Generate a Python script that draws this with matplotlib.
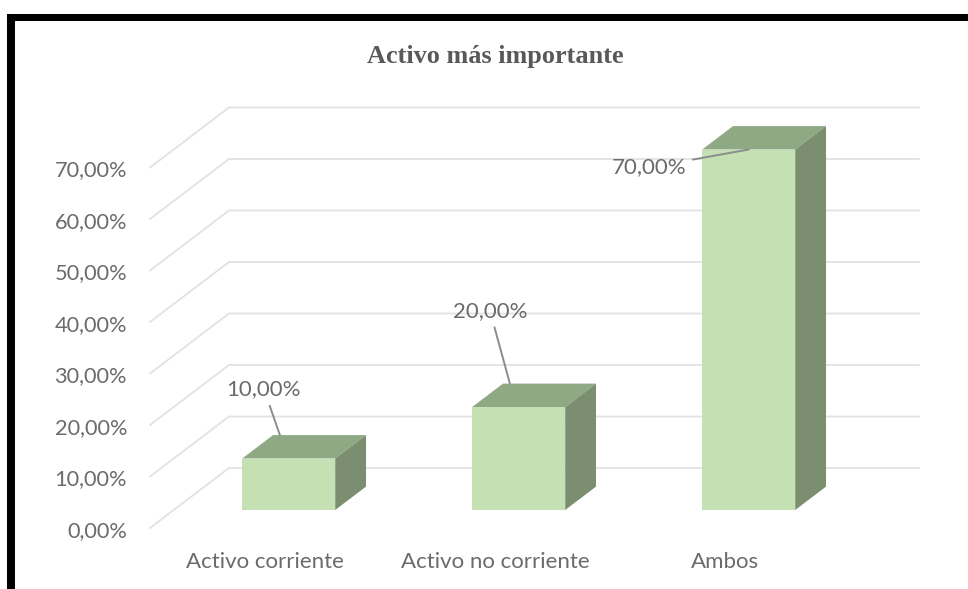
import numpy as np
import matplotlib
matplotlib.use("Agg")
from matplotlib import pyplot as plt
from matplotlib.patches import Polygon, Rectangle

categories = ["Activo corriente", "Activo no corriente", "Ambos"]
values = [10, 20, 70]
value_labels = ["10,00%", "20,00%", "70,00%"]
ticks = [0, 10, 20, 30, 40, 50, 60, 70]
tick_labels = ["0,00%", "10,00%", "20,00%", "30,00%", "40,00%", "50,00%", "60,00%", "70,00%"]

W, H = 968, 589
PX_X = 230.0   # pixels per category
PX_Y = 5.15    # pixels per percent
X0, Y0 = 265.0, 528.0  # where category 0 / value 0 sit on the front of the floor

# depth of the fake 3d box, in data units
DX = 79.0 / PX_X
DY = 60.0 / PX_Y
BAR_D0, BAR_D1 = 0.30, 0.69
BAR_W = 93.0 / PX_X

LABEL_OFFSETS = [(-16, 46), (-20, 73), (-100, -18)]

GRID = "#e2e2e2"
TEXT = "#6b6b6b"
FRONT = "#c5e0b3"
TOP = "#8fa985"
SIDE = "#7b8e70"


def proj(x, v, d):
    # shear a point back into the chart by depth d
    return x + d * DX, v + d * DY


fig = plt.figure(figsize=(W / 100, H / 100), dpi=100)
ax = fig.add_axes([0, 0, 1, 1])
ax.set_xlim(-X0 / PX_X, (W - X0) / PX_X)
ax.set_ylim((Y0 - H) / PX_Y, Y0 / PX_Y)
ax.axis("off")

# gridlines: the slanted side wall then the back wall
for t, lab in zip(ticks, tick_labels):
    pts = [proj(-0.5, t, 0), proj(-0.5, t, 1), proj(2.5, t, 1)]
    ax.plot([p[0] for p in pts], [p[1] for p in pts], color=GRID, lw=1.3, zorder=1,
            solid_joinstyle="miter")
    ax.annotate(lab, xy=(-0.5, t), xytext=(-23, -3), textcoords="offset pixels",
                ha="right", va="center", fontsize=15.7, family="Lato", color=TEXT)

for i, (name, val, lab) in enumerate(zip(categories, values, value_labels)):
    l, r = i - BAR_W / 2, i + BAR_W / 2
    ax.add_patch(Polygon([proj(l, val, BAR_D0), proj(r, val, BAR_D0), proj(r, val, BAR_D1),
                          proj(l, val, BAR_D1)], fc=TOP, ec="none", zorder=3))
    ax.add_patch(Polygon([proj(r, 0, BAR_D0), proj(r, 0, BAR_D1), proj(r, val, BAR_D1),
                          proj(r, val, BAR_D0)], fc=SIDE, ec="none", zorder=3))
    ax.add_patch(Polygon([proj(l, 0, BAR_D0), proj(r, 0, BAR_D0), proj(r, val, BAR_D0),
                          proj(l, val, BAR_D0)], fc=FRONT, ec="none", zorder=4))
    # data label with its leader line, anchored on the top of the box
    anchor = proj(l + 0.03, val, BAR_D1) if i < 2 else proj(i, val, BAR_D0)
    ax.annotate(lab, xy=anchor, xytext=LABEL_OFFSETS[i], textcoords="offset pixels",
                ha="center", va="center", fontsize=16, family="Lato", color=TEXT,
                zorder=6,
                arrowprops=dict(arrowstyle="-", color="#8c8c8c", lw=1.4, shrinkA=3, shrinkB=0))
    ax.annotate(name, xy=proj(i, 0, 0), xytext=(0, -34), textcoords="offset pixels",
                ha="center", va="center", fontsize=16, family="Lato", color=TEXT)

fig.text(495 / W, 1 - 56 / H, "Activo más importante", ha="center", va="center",
         fontsize=18.9, fontweight="bold", family="Liberation Serif", color="#595959")

# thick black border, only top and left are in the crop
fig.add_artist(Rectangle((7 / W, 0), 8 / W, 1 - 14 / H, transform=fig.transFigure,
                         fc="black", ec="none"))
fig.add_artist(Rectangle((7 / W, 1 - 21 / H), 1 - 7 / W, 7 / H, transform=fig.transFigure,
                         fc="black", ec="none"))

fig.savefig("out.png", dpi=100)
